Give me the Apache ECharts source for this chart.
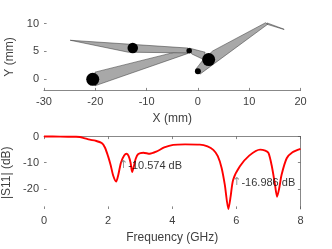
<!DOCTYPE html>
<html><head><meta charset="utf-8">
<style>html,body{margin:0;padding:0;background:#fff}#c{width:332px;height:249px;filter:blur(0.3px)}</style>
<script src="https://cdn.jsdelivr.net/npm/echarts@6/dist/echarts.min.js"></script>
</head><body><div id="c"></div>
<script>
// antenna outline polygons, mm
const armA=[[-20.06,1.29],[-1.93,5.45],[-1.93,4.64],[-20.06,-1.16]];
const armB=[[-24.9,7.0],[-1.9,5.6],[-1.9,4.73],[-13.6,4.86]];
const armC=[[-1.7,5.6],[1.4,4.86],[1.2,3.5],[-1.2,4.55]];
const armD=[[2.9,5.09],[13.2,10.14],[13.6,9.86],[0.4,0.93],[-0.4,1.82],[1.0,3.48]];
const armE=[[13.5,10.1],[16.8,8.98],[16.8,8.92],[13.5,9.85]];
const polygons=[armA,armB,armC,armD,armE];
const joints=[[-20.5,0],[-12.7,5.6],[-1.7,5.14],[2.1,3.54],[0,1.46],[13.4,10.03]];
const jointSizes=[13,10.5,5.5,13,6,3];
// S11 curve
const freq=[0,0.5,1,1.12,1.25,1.43,1.6,1.8,1.9,2,2.08,2.16,2.25,2.32,2.4,2.5,2.58,2.64,2.7,2.75,2.8,2.86,2.94,3.1,3.3,3.5,3.75,4.03,4.4,4.86,5.1,5.28,5.42,5.54,5.64,5.75,5.82,5.9,6.11,6.4,6.74,6.9,7,7.1,7.2,7.27,7.34,7.41,7.57,7.75,8];
const s11=[0,-0.05,-0.1,-0.2,-0.6,-1.2,-1.6,-2.5,-4.2,-7.6,-11,-15,-17.2,-14.5,-10,-7.3,-6.6,-7.5,-10,-13.6,-11.5,-8.5,-6.7,-6.2,-6.6,-5.8,-4.2,-3.2,-3,-3.1,-3.8,-5.1,-7.5,-12,-18.5,-27.7,-23,-16.5,-11.4,-7.3,-5,-5.4,-6.3,-11,-18,-23,-19.5,-14.6,-8.3,-6,-4.7];
const s11Points=freq.map((f,i)=>[f,s11[i]]);
const dbTicks=[0,-10,-20];
const yTicks=[0,5,10];
const notes=[{f:2.34,db:-11.1,text:'-10.574 dB'},{f:5.87,db:-17.6,text:'-16.986 dB'}];

const axisGray='#404040';
const font={color:axisGray,fontSize:11,fontFamily:'Liberation Sans'};
const nameStyle={color:axisGray,fontSize:12,fontFamily:'Liberation Sans'};
const axLine={show:true,onZero:false,lineStyle:{color:'#555',width:0.7}};
const noLine={show:false,onZero:false};
const axTick={show:true,inside:true,length:2.6,lineStyle:{color:'#555',width:0.7}};
const chart=echarts.init(document.getElementById('c'),null,{renderer:'canvas'});
chart.setOption({
  animation:false,backgroundColor:'#fff',
  grid:[
    {left:44,top:23.5,width:256.5,height:67,outerBoundsMode:'none'},
    {left:44,top:136.5,width:256.5,height:72.5,outerBoundsMode:'none'}
  ],
  xAxis:[
    {gridIndex:0,type:'value',min:-30,max:20,interval:10,name:'X (mm)',nameLocation:'middle',nameGap:22.5,nameTextStyle:nameStyle,axisLine:axLine,axisTick:axTick,splitLine:{show:false},axisLabel:{...font,margin:6}},
    {gridIndex:1,type:'value',min:0,max:8,interval:2,name:'Frequency (GHz)',nameLocation:'middle',nameGap:22.5,nameTextStyle:nameStyle,axisLine:noLine,axisTick:axTick,splitLine:{show:false},axisLabel:{...font,margin:6}},
    {gridIndex:1,type:'value',min:0,max:8,interval:2,position:'top',axisLine:axLine,axisTick:axTick,splitLine:{show:false},axisLabel:{show:false}}
  ],
  yAxis:[
    {gridIndex:0,type:'value',min:-2,max:10,name:'Y (mm)',nameLocation:'middle',nameGap:27,nameTextStyle:nameStyle,axisLine:noLine,splitLine:{show:false},axisLabel:{...font,margin:5,customValues:yTicks},axisTick:{...axTick,customValues:yTicks}},
    {gridIndex:1,type:'value',min:-27.7,max:0,name:'|S11| (dB)',nameLocation:'middle',nameGap:29,nameTextStyle:nameStyle,axisLine:noLine,splitLine:{show:false},axisLabel:{...font,margin:5,customValues:dbTicks},axisTick:{...axTick,customValues:dbTicks}},
    {gridIndex:1,type:'value',min:-27.7,max:0,position:'right',axisLine:axLine,splitLine:{show:false},axisLabel:{show:false},axisTick:{...axTick,customValues:dbTicks}}
  ],
  series:[
    {type:'custom',xAxisIndex:0,yAxisIndex:0,clip:false,silent:true,data:polygons.map((p,i)=>[i]),
      renderItem:(params,api)=>{const p=polygons[api.value(0)];
        return {type:'polygon',shape:{points:p.map(c=>api.coord(c))},style:{fill:'#a8a8a8',stroke:'#333',lineWidth:0.5}};},z:2},
    {type:'scatter',xAxisIndex:0,yAxisIndex:0,data:joints,symbol:'circle',symbolSize:(v,p)=>jointSizes[p.dataIndex],itemStyle:{color:'#000',opacity:1},z:3,silent:true},
    {type:'line',xAxisIndex:1,yAxisIndex:1,data:s11Points,smooth:0.25,symbol:'none',lineStyle:{color:'#f00',width:1.9},clip:false,z:3,silent:true},
    {type:'scatter',xAxisIndex:1,yAxisIndex:1,data:notes.map(n=>[n.f,n.db]),symbolSize:0,silent:true,z:5,
      label:{show:true,position:'right',distance:0,formatter:p=>'{a|↑}{b|'+notes[p.dataIndex].text+'}',
        rich:{a:{color:'#777',fontSize:11,fontFamily:'DejaVu Sans',padding:[0,0,0,0]},b:{color:'#000',fontSize:11,fontFamily:'Liberation Sans'}}}}
  ]
});
</script></body></html>
